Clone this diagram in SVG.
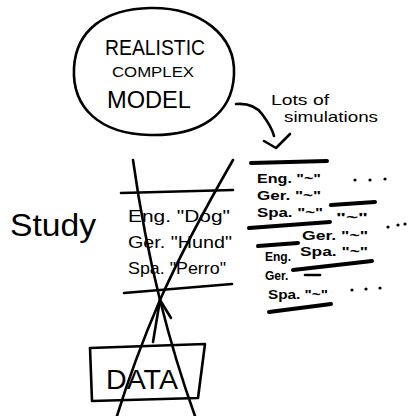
<svg xmlns="http://www.w3.org/2000/svg" width="410" height="416" viewBox="0 0 410 416">
<style>
.ln{fill:none;stroke:#000;stroke-width:2.6;stroke-linecap:round;stroke-linejoin:round}
.th{fill:none;stroke:#000;stroke-width:4;stroke-linecap:round}
.t{font-family:"Liberation Sans","DejaVu Sans",sans-serif;fill:#000}
.s{font-family:"Liberation Sans","DejaVu Sans",sans-serif;fill:#000;font-size:12px;font-weight:bold}
.d{fill:#000}
</style>
<rect width="410" height="416" fill="#fff"/>
<g id="model">
<path class="ln" d="M150,8 C200,7 236,35 234,75 C232,115 200,136 150,135 C100,134 72,108 74,68 C76,30 105,9 150,8 Z"/>
<text class="t" x="105" y="55" font-size="22" textLength="100" lengthAdjust="spacingAndGlyphs">REALISTIC</text>
<text class="t" x="112" y="77" font-size="15" textLength="82" lengthAdjust="spacingAndGlyphs">COMPLEX</text>
<text class="t" x="107" y="108" font-size="24" textLength="84" lengthAdjust="spacingAndGlyphs">MODEL</text>
</g>
<g id="sim-label">
<text class="t" x="271" y="105" font-size="15" textLength="58" lengthAdjust="spacingAndGlyphs">Lots of</text>
<text class="t" x="284" y="122" font-size="15" textLength="94" lengthAdjust="spacingAndGlyphs">simulations</text>
</g>
<g id="study">
<text class="t" x="10" y="236" font-size="31" textLength="86" lengthAdjust="spacingAndGlyphs">Study</text>
<path class="ln" d="M121,193 L233,190"/>
<path class="ln" d="M124,293 L232,284"/>
<text class="t" x="128" y="222" font-size="17" textLength="102" lengthAdjust="spacingAndGlyphs">Eng.  "Dog"</text>
<text class="t" x="128" y="248" font-size="17" textLength="104" lengthAdjust="spacingAndGlyphs">Ger.  "Hund"</text>
<text class="t" x="128" y="274" font-size="17" textLength="98" lengthAdjust="spacingAndGlyphs">Spa.  "Perro"</text>
</g>
<g id="simulations">
<path class="th" d="M251,163 L327,161"/>
<text class="s" x="257" y="183" textLength="64" lengthAdjust="spacingAndGlyphs">Eng. "~"</text>
<circle class="d" cx="355" cy="180" r="1.6"/><circle class="d" cx="370" cy="180" r="1.6"/><circle class="d" cx="385" cy="179" r="1.6"/>
<text class="s" x="257" y="200" textLength="64" lengthAdjust="spacingAndGlyphs">Ger. "~"</text>
<text class="s" x="257" y="217" textLength="66" lengthAdjust="spacingAndGlyphs">Spa. "~"</text>
<path class="th" d="M249,228 L330,222"/>
<path class="th" d="M331,205 L375,202"/>
<text class="s" x="336" y="222" textLength="32" lengthAdjust="spacingAndGlyphs">"~"</text>
<circle class="d" cx="388" cy="227" r="1.6"/><circle class="d" cx="398" cy="225" r="1.6"/><circle class="d" cx="405" cy="224" r="1.6"/>
<path class="th" d="M258,246 L298,243"/>
<text class="s" x="302" y="240" textLength="66" lengthAdjust="spacingAndGlyphs">Ger. "~"</text>
<text class="s" x="265" y="261">Eng.</text>
<text class="s" x="300" y="256" textLength="68" lengthAdjust="spacingAndGlyphs">Spa. "~"</text>
<path class="th" d="M293,270 L372,261"/>
<text class="s" x="265" y="280">Ger.</text>
<path class="ln" d="M305,275 L320,275"/>
<text class="s" x="268" y="299" textLength="60" lengthAdjust="spacingAndGlyphs">Spa. "~"</text>
<circle class="d" cx="352" cy="290" r="1.6"/><circle class="d" cx="366" cy="289" r="1.6"/><circle class="d" cx="380" cy="288" r="1.6"/>
<path class="th" d="M269,312 L331,304"/>
</g>
<g id="data">
<path class="ln" d="M90,348 L205,344 L198,398 L92,401 Z"/>
<text class="t" x="106" y="389" font-size="28" textLength="72" lengthAdjust="spacingAndGlyphs">DATA</text>
</g>
<g id="connectors">
<path class="ln" d="M236,104 C248,103 256,106 262,114 C268,122 272,128 274,136"/>
<path class="ln" d="M264,141 L276,148 L290,134"/>
<path class="ln" d="M153,342 L160,300"/>
<path class="ln" d="M160,300 L171,318"/>
<path class="ln" d="M133,160 C140,210 150,260 160,300 C170,340 182,380 195,416"/>
<path class="ln" d="M233,160 C210,200 180,255 160,300 C145,335 128,380 117,416"/>
</g>
</svg>
